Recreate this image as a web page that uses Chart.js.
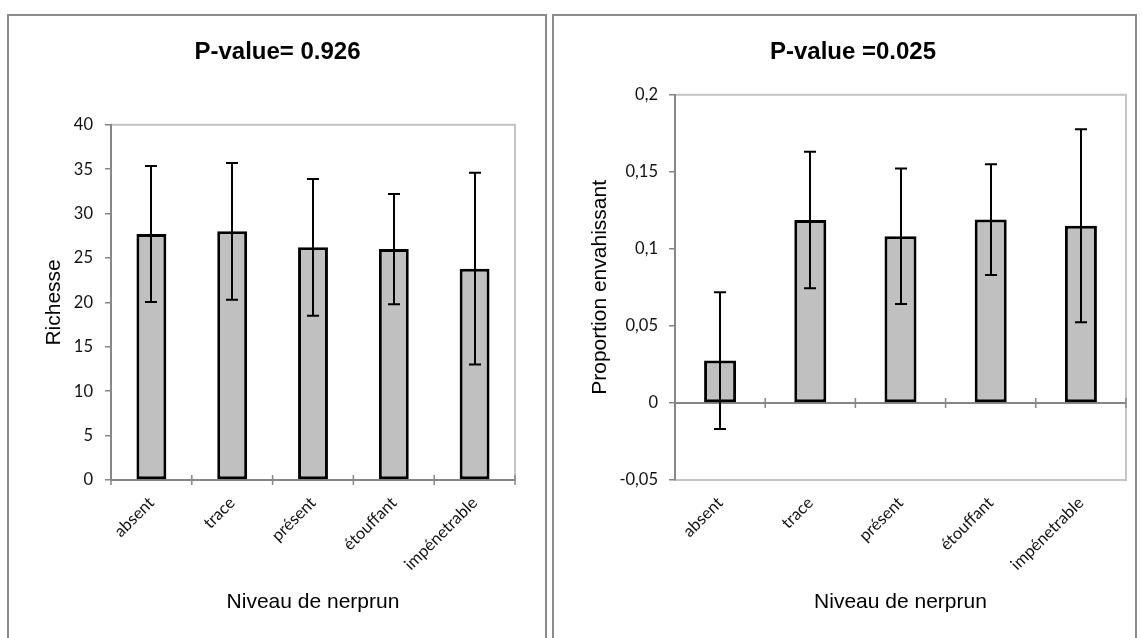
<!DOCTYPE html>
<html>
<head>
<meta charset="utf-8">
<script src="https://cdn.jsdelivr.net/npm/chart.js@4.4.1/dist/chart.umd.min.js"></script>
<style>
  html, body { margin: 0; padding: 0; background: #fff; }
  body { width: 1142px; height: 638px; position: relative; overflow: hidden; }
  .panel { position: absolute; top: 14px; height: 640px; border: 2px solid #8c8c8c; box-sizing: border-box; background: #fff; }
  #panel-left { left: 7px; width: 540px; }
  #panel-right { left: 552px; width: 585px; }
  canvas { position: absolute; left: 0; top: 0; }
</style>
</head>
<body>
<div class="panel" id="panel-left"><canvas id="chart-left" width="536" height="622"></canvas></div>
<div class="panel" id="panel-right"><canvas id="chart-right" width="581" height="622"></canvas></div>
<script>
// ── Data ───────────────────────────────────────────
const categories = ['absent', 'trace', 'présent', 'étouffant', 'impénetrable'];

const richesse = [27.7, 28.0, 26.2, 26.0, 23.8];
const richesseErr = [7.65, 7.7, 7.7, 6.2, 10.8];

const proportion = [0.0275, 0.1188, 0.1082, 0.119, 0.115];
const proportionErr = [0.0444, 0.0443, 0.044, 0.036, 0.0626];

// ── Style ──────────────────────────────────────────
const AXIS_GRAY = '#868686';
const FRAME_GRAY = '#c4c4c4';
const BAR_FILL = '#c0c0c0';
const ARIAL = "'Liberation Sans', Arial, sans-serif";
const TICK_FONT = { family: "Lato, 'Open Sans', sans-serif", size: 16.5 };

// ── Plugins ────────────────────────────────────────
// plot-area frame + Excel style axis at value 0 with crossing tick marks
const plotFrame = {
  id: 'plotFrame',
  beforeDraw(chart) {
    const { ctx, chartArea: a } = chart;
    ctx.save();
    ctx.strokeStyle = FRAME_GRAY;
    ctx.lineWidth = 2;
    ctx.strokeRect(a.left, a.top, a.right - a.left, a.bottom - a.top);
    ctx.restore();
  },
  beforeDatasetsDraw(chart) {
    const { ctx, chartArea: a, scales: { x, y } } = chart;
    const y0 = y.getPixelForValue(0);
    ctx.save();
    ctx.strokeStyle = AXIS_GRAY;
    ctx.lineWidth = 2;
    ctx.beginPath();
    ctx.moveTo(a.left, y0);
    ctx.lineTo(a.right, y0);
    ctx.stroke();
    ctx.lineWidth = 1.5;
    ctx.beginPath();
    for (let i = 0; i <= x.ticks.length; i++) {
      const px = x.getPixelForValue(i - 0.5);
      ctx.moveTo(px, y0 - 5);
      ctx.lineTo(px, y0 + 5);
    }
    ctx.stroke();
    ctx.restore();
  }
};

const errorBars = {
  id: 'errorBars',
  afterDatasetsDraw(chart, args, opts) {
    const { ctx, scales: { y } } = chart;
    const meta = chart.getDatasetMeta(0);
    const values = chart.data.datasets[0].data;
    ctx.save();
    ctx.strokeStyle = '#000';
    ctx.lineWidth = 2;
    meta.data.forEach((bar, i) => {
      const hi = y.getPixelForValue(values[i] + opts.errors[i]);
      const lo = y.getPixelForValue(values[i] - opts.errors[i]);
      const cx = Math.round(bar.x);
      ctx.beginPath();
      ctx.moveTo(cx, hi);
      ctx.lineTo(cx, lo);
      ctx.moveTo(cx - 6, hi);
      ctx.lineTo(cx + 6, hi);
      ctx.moveTo(cx - 6, lo);
      ctx.lineTo(cx + 6, lo);
      ctx.stroke();
    });
    ctx.restore();
  }
};

// ── Chart builder ──────────────────────────────────
function makeChart(id, cfg) {
  return new Chart(document.getElementById(id), {
    type: 'bar',
    data: {
      labels: categories,
      datasets: [{
        data: cfg.values,
        backgroundColor: BAR_FILL,
        borderColor: '#000',
        borderWidth: 3,
        borderSkipped: false,
        barPercentage: cfg.barPct,
        categoryPercentage: 1,
      }],
    },
    plugins: [plotFrame, errorBars],
    options: {
      responsive: false,
      animation: false,
      layout: { padding: { left: cfg.padLeft, right: cfg.padRight, top: 0, bottom: 0 } },
      plugins: {
        legend: { display: false },
        tooltip: { enabled: false },
        title: {
          display: true,
          text: cfg.title,
          color: '#000',
          font: { family: ARIAL, size: 24, weight: 'bold' },
          padding: { top: 22, bottom: cfg.titleGap },
        },
        errorBars: { errors: cfg.errors },
      },
      scales: {
        x: {
          grid: { display: false },
          border: { display: false },
          ticks: {
            color: '#111',
            font: TICK_FONT,
            minRotation: 45,
            maxRotation: 45,
            autoSkip: false,
            padding: 5,
          },
          title: {
            display: true,
            text: 'Niveau de nerprun',
            color: '#000',
            font: { family: ARIAL, size: 21 },
            padding: { top: 0, bottom: 23 },
          },
          afterFit(scale) { scale.height = 158; },
        },
        y: {
          min: cfg.min,
          max: cfg.max,
          border: { color: AXIS_GRAY, width: 2 },
          grid: {
            drawOnChartArea: false,
            color: AXIS_GRAY,
            lineWidth: 1.5,
            tickLength: 6,
          },
          ticks: {
            stepSize: cfg.step,
            color: '#111',
            font: TICK_FONT,
            padding: cfg.tickPad,
            callback: cfg.fmt,
          },
          title: {
            display: true,
            text: cfg.yTitle,
            color: '#000',
            font: { family: ARIAL, size: 21 },
            padding: { top: cfg.yTitlePad, bottom: 0 },
          },
          afterFit(scale) { scale.width = cfg.yWidth; },
        },
      },
    },
  });
}

// ── Render ─────────────────────────────────────────
makeChart('chart-left', {
  title: 'P-value= 0.926',
  yTitle: 'Richesse',
  values: richesse,
  errors: richesseErr,
  min: 0, max: 40, step: 5,
  fmt: v => String(v),
  barPct: 0.37,
  padLeft: 31, padRight: 30, yWidth: 71,
  titleGap: 58, yTitlePad: 2, tickPad: 12,
});

makeChart('chart-right', {
  title: 'P-value =0.025',
  yTitle: 'Proportion envahissant',
  values: proportion,
  errors: proportionErr,
  min: -0.05, max: 0.2, step: 0.05,
  fmt: v => String(Math.round(v * 100) / 100).replace('.', ','),
  barPct: 0.355,
  padLeft: 26, padRight: 9, yWidth: 95,
  titleGap: 28, yTitlePad: 8, tickPad: 11,
});
</script>
</body>
</html>
